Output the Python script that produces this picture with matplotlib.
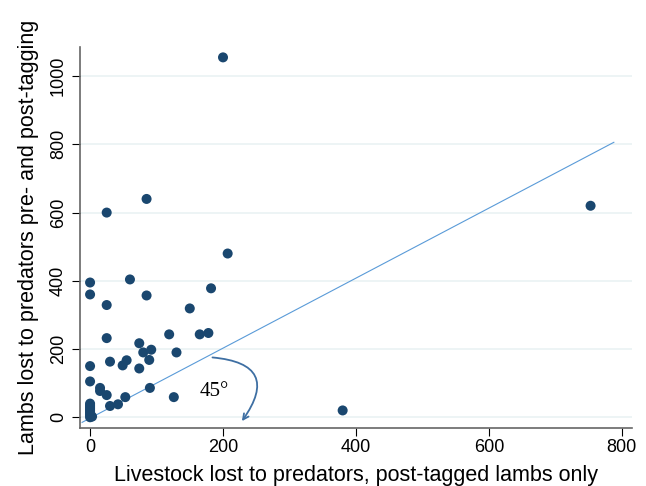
import numpy as np
import matplotlib.pyplot as plt
from matplotlib.patches import FancyArrowPatch

plt.rcParams['font.family'] = ['Liberation Sans', 'DejaVu Sans']
plt.rcParams['font.serif'] = ['Liberation Serif', 'DejaVu Serif']

# post-tagged losses (x) vs pre- and post-tagging losses (y)
post_tagged = [200, 25, 85, 753, 207, 0, 0, 60, 25, 85, 182, 150, 25, 119, 165, 178,
               74, 80, 92, 130, 55, 49, 89, 30, 74, 0, 0, 15, 15, 25, 90, 126, 53,
               30, 42, 380, 0, 0, 0, 0, 0, 0, 0, 0, 0, 3]
pre_post = [1055, 600, 640, 620, 480, 395, 360, 404, 329, 357, 378, 319, 232, 243, 243, 247,
            217, 190, 198, 190, 167, 152, 168, 163, 143, 150, 105, 86, 77, 65, 86, 59, 59,
            33, 38, 20, 40, 35, 30, 25, 20, 15, 10, 5, 0, 2]

# reference line end points
line_x = [-12, 788]
line_y = [-15, 806]
x_ticks = [0, 200, 400, 600, 800]
y_ticks = [0, 200, 400, 600, 800, 1000]

fig = plt.figure(figsize=(6.46, 4.86), dpi=100)
ax = fig.add_axes([0.124, 0.119, 0.854, 0.784])

ax.plot(line_x, line_y, color='#5a9bd8', lw=0.8, zorder=2)
ax.scatter(post_tagged, pre_post, s=52, color='#1a476f', edgecolor='none', zorder=3)

ax.set_xlim(-15, 815)
ax.set_ylim(-32, 1085)
ax.set_xticks(x_ticks)
ax.set_yticks(y_ticks)
ax.tick_params(labelsize=13, length=6, direction='out', color='black')
ax.tick_params(axis='x', pad=2)
for lab in ax.get_yticklabels():
    lab.set_rotation(90)
    lab.set_va('center')

ax.yaxis.grid(True, color='#eaf2f3', lw=1.2)
ax.set_axisbelow(True)
for s in ['top', 'right']:
    ax.spines[s].set_visible(False)
for s in ['left', 'bottom']:
    ax.spines[s].set_color('#666666')
    ax.spines[s].set_linewidth(1.2)

ax.set_xlabel('Livestock lost to predators, post-tagged lambs only', fontsize=15.5, labelpad=6)
ax.set_ylabel('Lambs lost to predators pre- and post-tagging', fontsize=15.5, labelpad=8)

# 45 degree marker
arrow = FancyArrowPatch((180, 176), (226, -18), connectionstyle='arc3,rad=-0.9',
                        arrowstyle='->,head_length=4,head_width=2',
                        color='#3e6fa3', lw=1.3, zorder=4)
ax.add_patch(arrow)
ax.text(165, 75, '45°', fontsize=15, family='serif', ha='left', va='center')

fig.savefig('out.png', dpi=100)
